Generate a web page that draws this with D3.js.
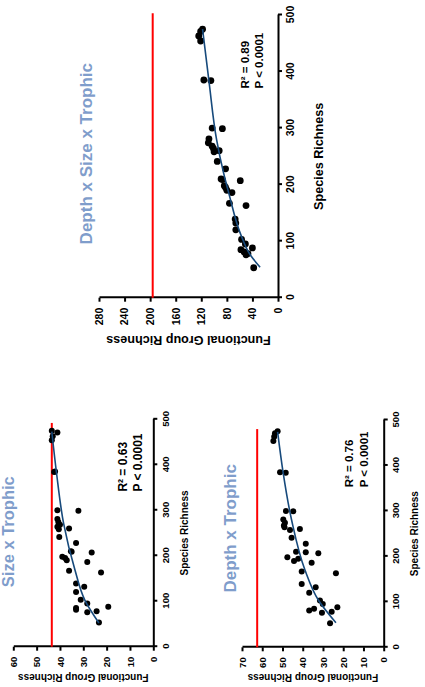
<!DOCTYPE html>
<html>
<head>
<meta charset="utf-8">
<script src="https://cdn.jsdelivr.net/npm/d3@7"></script>
<style>
  body { margin: 0; background: #fff; }
  text { font-family: "Liberation Sans", Arial, sans-serif; font-weight: bold; }
</style>
</head>
<body>
<div class="chart"></div>
<script>
var svgWidth = 425;
var svgHeight = 687;

// Data
// ==============================
// species richness of each site (same sites in every panel)
var speciesRichness = [475, 471, 463, 454, 385, 384, 300, 299, 281, 274, 268, 264, 260, 258, 241, 228,
  210, 209, 207, 198, 195, 190, 186, 167, 163, 139, 132, 120, 103, 95, 88, 85, 81, 78, 76, 53];

// functional group richness for each classification
var fgDepthSizeTrophic = [118, 121, 124, 121, 116, 105, 103, 87, 108, 109, 103, 101, 92, 100, 95, 82,
  89, 87, 59, 84, 82, 80, 72, 76, 50, 67, 66, 66, 57, 51, 40, 58, 53, 47, 50, 38];
var fgSizeTrophic = [43.5, 41.1, 43.1, 43.5, 42.1, 42.5, 41.1, 32.1, 41.1, 40.7, 40, 41.1, 36.1, 40.5, 40.3, 33.1,
  35.3, 35, 26.4, 39, 37.8, 37.1, 28.3, 36.1, 22.4, 33.1, 29.6, 33.1, 31.1, 28.3, 19.3, 33.1, 33.1, 24.3, 28.3, 23.3];
var fgDepthTrophic = [52.4, 53.7, 54.1, 54.5, 51.2, 48.4, 48.3, 44.7, 49.6, 48.8, 49.3, 49, 41.4, 46.3, 45.5, 38.5,
  43.3, 38.5, 32.3, 47.6, 42.2, 44.3, 35.6, 40.5, 23.6, 40.5, 33.6, 36.8, 31.5, 30.1, 22.9, 34.4, 36.8, 25.7, 30.5, 26.5];

// fitted curves, [species, functional groups]
var fitDepthSizeTrophic = [[54, 28], [75, 43], [108, 57], [185, 77], [220, 85], [279, 96], [383, 108], [475, 118]];
var fitSizeTrophic = [[52, 23.3], [103, 29.4], [169, 33.6], [270, 38.4], [383, 41.5], [473, 43.5]];
var fitDepthTrophic = [[54, 23.6], [104, 32.3], [170, 38.9], [280, 45.5], [385, 49.7], [474, 52.4]];

// red reference level (total functional groups)
var refDepthSizeTrophic = 196;
var refSizeTrophic = 43.5;
var refDepthTrophic = 62.5;

var panelTitles = ["Depth x Size x Trophic", "Size x Trophic", "Depth x Trophic"];
var statTexts = [["R² = 0.89", "P < 0.0001"], ["R² = 0.63", "P < 0.0001"], ["R² = 0.76", "P < 0.0001"]];

var speciesTicks = [0, 100, 200, 300, 400, 500];
var fgTicksDepthSizeTrophic = [0, 40, 80, 120, 160, 200, 240, 280];
var fgTicksSizeTrophic = [0, 10, 20, 30, 40, 50, 60];
var fgTicksDepthTrophic = [0, 10, 20, 30, 40, 50, 60, 70];

var svg = d3.select(".chart")
  .append("svg")
  .attr("width", svgWidth)
  .attr("height", svgHeight);

// Panel layout (each panel is drawn upright, then turned a quarter turn left)
// ==============================
var panels = [
  { title: panelTitles[0], fg: fgDepthSizeTrophic, fit: fitDepthSizeTrophic, ref: refDepthSizeTrophic,
    refEnd: 503, stats: statTexts[0], fgTicks: fgTicksDepthSizeTrophic,
    left: 99, bottom: 297.7, width: 282.7, height: 179, r: 3.4,
    titleX: 144, titleY: -7, titleSize: 17, statX: 370, statY: [28.7, 14.7], statSize: 11.5,
    tickSize: 10.5, labelSize: 12.6, xLabelY: 45, yLabelX: -38.3 },
  { title: panelTitles[1], fg: fgSizeTrophic, fit: fitSizeTrophic, ref: refSizeTrophic,
    refEnd: 492, stats: statTexts[1], fgTicks: fgTicksSizeTrophic,
    left: 13.3, bottom: 646.7, width: 227.4, height: 140, r: 3,
    titleX: 115, titleY: 0.8, titleSize: 16.5, statX: 341, statY: [26.6, 11.6], statSize: 12,
    tickSize: 9.5, labelSize: 10, xLabelY: 35, yLabelX: -27.3 },
  { title: panelTitles[2], fg: fgDepthTrophic, fit: fitDepthTrophic, ref: refDepthTrophic,
    refEnd: 480, stats: statTexts[2], fgTicks: fgTicksDepthTrophic,
    left: 242, bottom: 647.3, width: 227.3, height: 141.7, r: 3,
    titleX: 119, titleY: -6, titleSize: 17, statX: 352, statY: [30.7, 15.5], statSize: 11.5,
    tickSize: 9.5, labelSize: 10, xLabelY: 34, yLabelX: -26.7 }
];

panels.forEach(drawPanel);

function drawPanel(p) {
  var g = svg.append("g")
    .attr("transform", `translate(${p.left}, ${p.bottom}) rotate(-90)`);

  var fgMax = d3.max(p.fgTicks);
  var points = speciesRichness.map((s, i) => ({ s: s, f: p.fg[i] }));

  // scales
  var xScale = d3.scaleLinear().domain([0, 500]).range([0, p.width]);
  var yScale = d3.scaleLinear().domain([0, fgMax]).range([p.height, 0]);

  // axes
  var bottomAxis = d3.axisBottom(xScale).tickValues(speciesTicks)
    .tickSize(4).tickPadding(4.5).tickSizeOuter(0);
  var leftAxis = d3.axisLeft(yScale).tickValues(p.fgTicks)
    .tickSize(4).tickPadding(6).tickSizeOuter(0);

  var xAxisG = g.append("g")
    .attr("transform", `translate(0, ${p.height})`)
    .call(bottomAxis);
  var yAxisG = g.append("g")
    .call(leftAxis);

  [xAxisG, yAxisG].forEach(function (a) {
    a.attr("font-size", p.tickSize);
    a.selectAll("path, line").attr("stroke", "#000").attr("stroke-width", 2);
    a.selectAll("text").attr("fill", "#000");
  });

  // red reference line
  g.append("line")
    .attr("x1", xScale(0))
    .attr("x2", xScale(p.refEnd))
    .attr("y1", yScale(p.ref))
    .attr("y2", yScale(p.ref))
    .attr("stroke", "#ff0000")
    .attr("stroke-width", 2);

  // points
  g.selectAll("circle")
    .data(points)
    .enter()
    .append("circle")
    .attr("cx", d => xScale(d.s))
    .attr("cy", d => yScale(d.f))
    .attr("r", p.r)
    .attr("fill", "#000");

  // fitted curve
  var line = d3.line()
    .x(d => xScale(d[0]))
    .y(d => yScale(d[1]))
    .curve(d3.curveMonotoneX);

  g.append("path")
    .datum(p.fit)
    .attr("d", line)
    .attr("fill", "none")
    .attr("stroke", "#174a7c")
    .attr("stroke-width", 1.6);

  // stats
  p.stats.forEach(function (t, i) {
    g.append("text")
      .attr("x", xScale(p.statX))
      .attr("y", p.height - p.statY[i])
      .attr("font-size", p.statSize)
      .attr("fill", "#000")
      .text(t);
  });

  // title
  g.append("text")
    .attr("x", p.titleX)
    .attr("y", p.titleY)
    .attr("text-anchor", "middle")
    .attr("font-size", p.titleSize)
    .attr("fill", "#7f9dcb")
    .text(p.title);

  // axis labels
  g.append("text")
    .attr("x", p.width / 2)
    .attr("y", p.height + p.xLabelY)
    .attr("text-anchor", "middle")
    .attr("font-size", p.labelSize)
    .attr("fill", "#000")
    .text("Species Richness");

  g.append("text")
    .attr("transform", `translate(${p.yLabelX}, ${p.height / 2}) rotate(-90)`)
    .attr("text-anchor", "middle")
    .attr("font-size", p.labelSize)
    .attr("fill", "#000")
    .text("Functional Group Richness");
}
</script>
</body>
</html>
